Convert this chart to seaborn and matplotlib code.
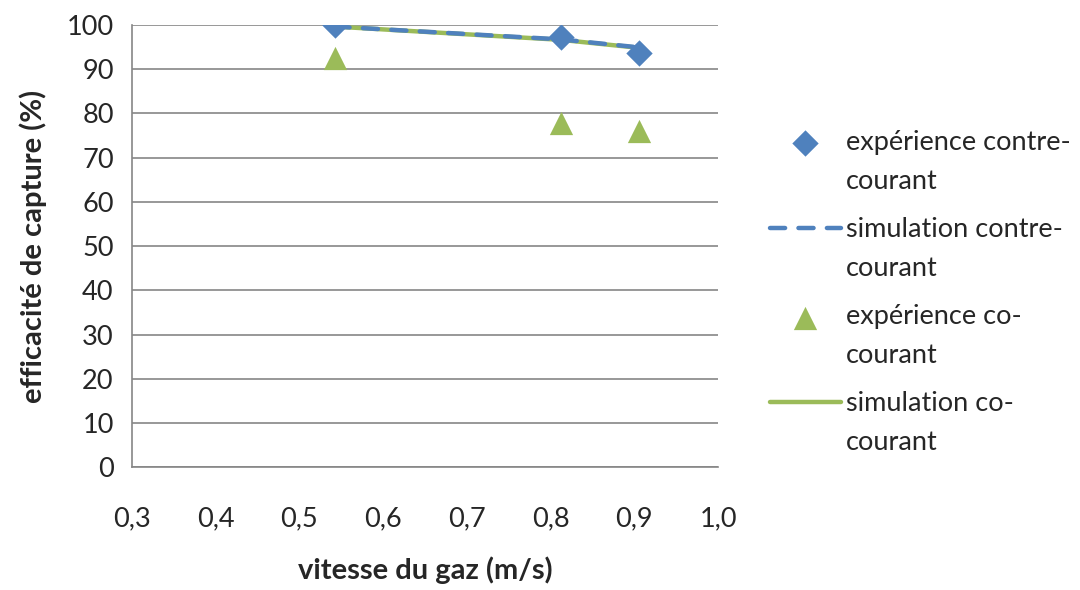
import matplotlib
matplotlib.use("Agg")
import matplotlib.pyplot as plt
from matplotlib.lines import Line2D
import seaborn as sns
import pandas as pd
import numpy as np

vitesse = [0.542, 0.812, 0.905]
exp_contre = [100.0, 97.3, 93.7]
sim_contre = [99.6, 96.7, 94.9]
exp_co = [92.5, 77.9, 75.9]
sim_co = [99.6, 96.6, 94.8]

labels = ["expérience contre-\ncourant", "simulation contre-\ncourant",
          "expérience co-\ncourant", "simulation co-\ncourant"]
xticks = [0.3, 0.4, 0.5, 0.6, 0.7, 0.8, 0.9, 1.0]
yticks = [0, 10, 20, 30, 40, 50, 60, 70, 80, 90, 100]

BLUE = "#4F81BD"
GREEN = "#9BBB59"
GRID = "#868686"

sns.set_style("white")
plt.rcParams['font.family'] = ['Lato', 'DejaVu Sans']

FS = 19.5

fig = plt.figure(figsize=(10.8, 5.9), dpi=100)
ax = fig.add_axes([0.122, 0.208, 0.543, 0.750])

df = pd.DataFrame({"x": vitesse, "ec": exp_contre, "sc": sim_contre,
                   "eo": exp_co, "so": sim_co})

sns.lineplot(data=df, x="x", y="so", ax=ax, color=GREEN, linewidth=3.2,
             zorder=3, label=labels[3], solid_capstyle="round")
sns.lineplot(data=df, x="x", y="sc", ax=ax, color=BLUE, linewidth=3.2,
             linestyle=(0, (3.4, 3.0)), zorder=3.5, label=labels[1],
             dash_capstyle="round")
sns.scatterplot(data=df, x="x", y="ec", ax=ax, color=BLUE, marker="D", s=180,
                linewidth=0, zorder=5, label=labels[0])
sns.scatterplot(data=df, x="x", y="eo", ax=ax, color=GREEN, marker="^", s=280,
                linewidth=0, zorder=5, label=labels[2])

ax.set_xlim(0.3, 1.0)
ax.set_ylim(0, 100)
ax.set_xticks(xticks)
ax.set_xticklabels([f"{v:.1f}".replace(".", ",") for v in xticks], fontsize=FS)
ax.set_yticks(yticks)
ax.set_yticklabels([str(v) for v in yticks], fontsize=FS)
ax.tick_params(axis="x", direction="out", length=7, width=1.2, color=GRID, pad=21)
ax.tick_params(axis="y", direction="out", length=7, width=1.2, color=GRID, pad=6)
ax.yaxis.grid(True, color=GRID, linewidth=1.2)
ax.xaxis.grid(False)
ax.set_axisbelow(True)
for s in ["top", "right"]:
    ax.spines[s].set_visible(False)
for s in ["left", "bottom"]:
    ax.spines[s].set_color(GRID)
    ax.spines[s].set_linewidth(1.2)

ax.set_xlabel("vitesse du gaz (m/s)", fontsize=21, fontweight="bold", labelpad=18)
ax.set_ylabel("efficacité de capture (%)", fontsize=21, fontweight="bold", labelpad=14)

handles, labs = ax.get_legend_handles_labels()
order = [labs.index(l) for l in labels]
leg = ax.legend([handles[i] for i in order], [labs[i] for i in order],
                loc="center left", bbox_to_anchor=(1.07, 0.395), frameon=False,
                fontsize=FS, handlelength=2.6, labelspacing=0.86,
                handletextpad=0.2, borderaxespad=0)
for t in leg.get_texts():
    t.set_linespacing(1.70)

# align each legend key with the first line of its label
DY = 15.5
for h in leg.legend_handles:
    if isinstance(h, Line2D):
        h.set_ydata(np.asarray(h.get_ydata(), dtype=float) + DY)
    else:
        off = np.asarray(h.get_offsets(), dtype=float)
        off[:, 1] += DY
        h.set_offsets(off)

fig.savefig("out.png", dpi=100)
